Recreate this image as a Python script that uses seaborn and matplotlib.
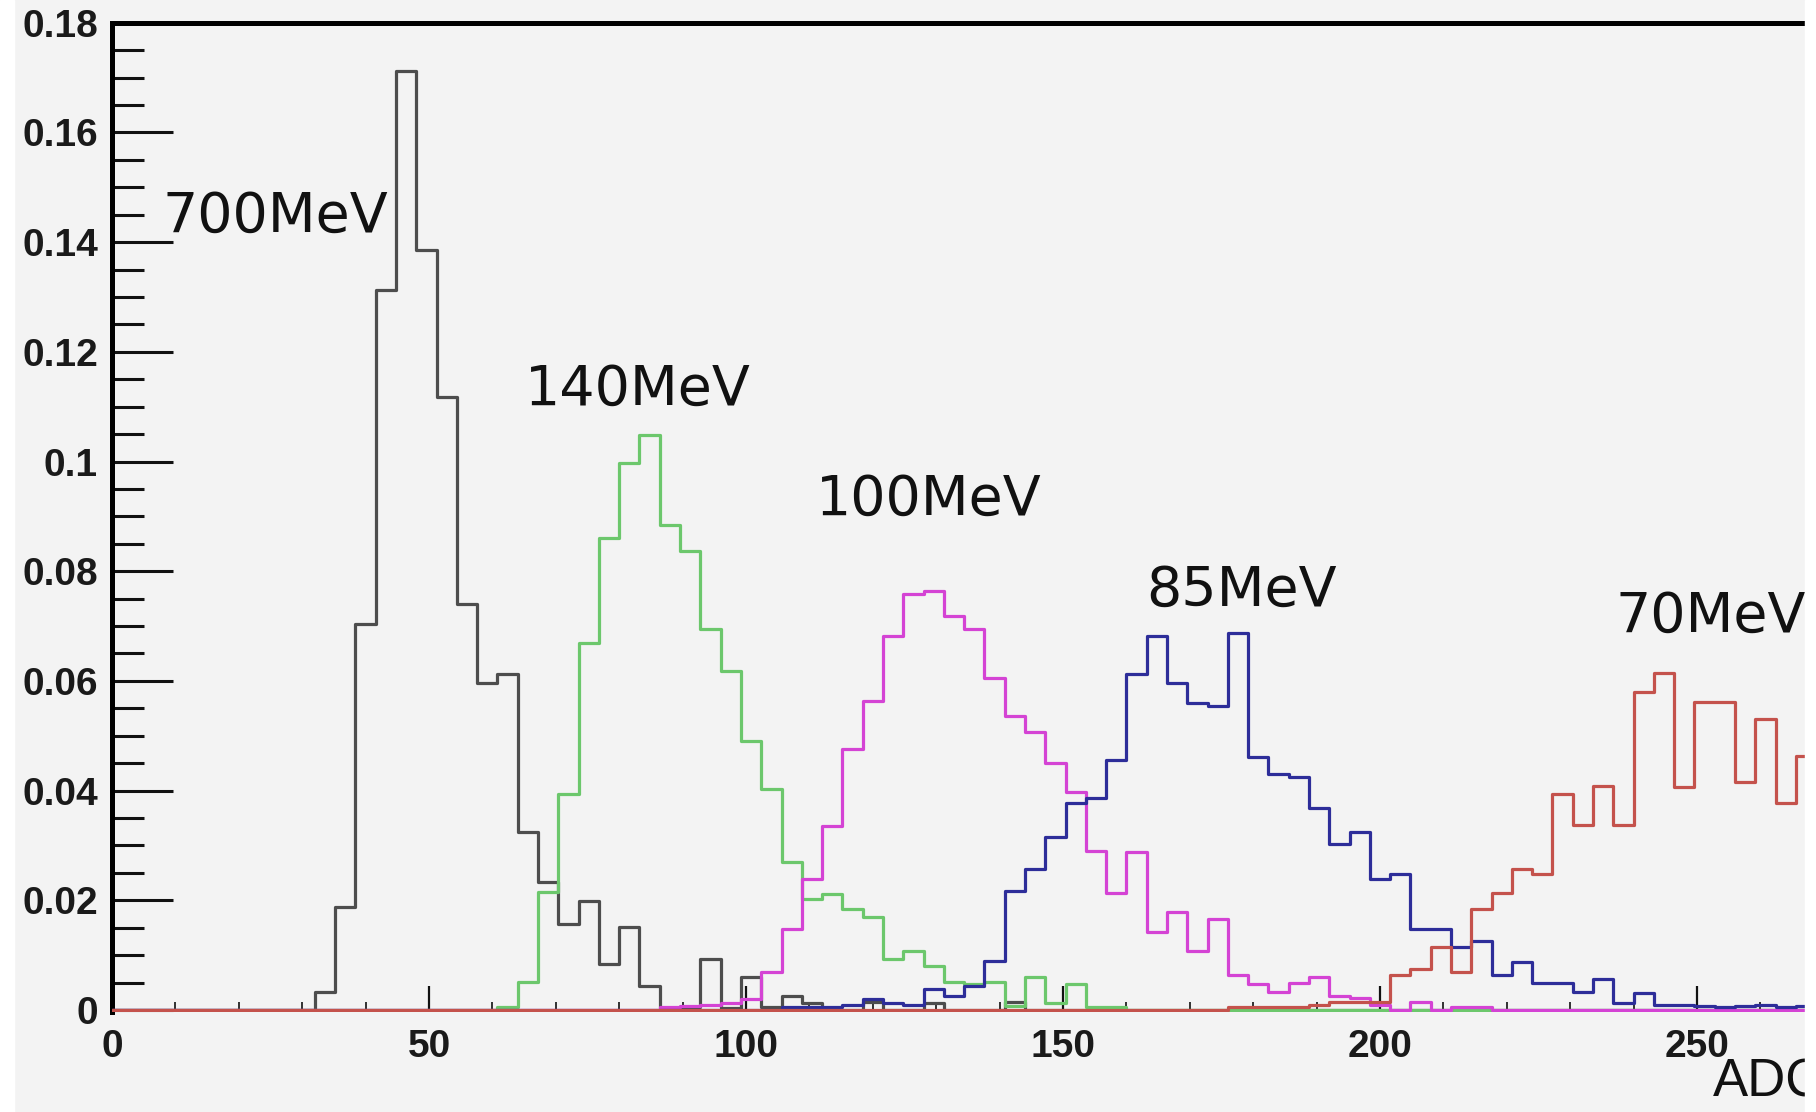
import numpy as np
import pandas as pd
import matplotlib
matplotlib.use("Agg")
import matplotlib.pyplot as plt
from matplotlib.patches import Rectangle
from matplotlib.ticker import MultipleLocator
import seaborn as sns

# ---------------- data (normalised ADC spectra, bin width 3.2 ADC) ----------------
bin_width = 3.2
n_bins = 84

labels = ["700MeV", "140MeV", "100MeV", "85MeV", "70MeV"]

start_700 = 9
vals_700 = [0.0, 0.0032, 0.0187, 0.0703, 0.1313, 0.1712, 0.1386, 0.1117, 0.0740,
            0.0597, 0.0612, 0.0324, 0.0233, 0.0157, 0.0199, 0.0084, 0.0151, 0.0044,
            0.0004, 0.0005, 0.0093, 0.0004, 0.0060, 0.0005, 0.0026, 0.0012, 0.0,
            0.0, 0.0015, 0.0, 0.0, 0.0012, 0.0, 0.0, 0.0, 0.0015]

start_140 = 19
vals_140 = [0.0005, 0.0051, 0.0215, 0.0393, 0.0670, 0.0861, 0.0998, 0.1049, 0.0885,
            0.0837, 0.0694, 0.0618, 0.0490, 0.0403, 0.0269, 0.0202, 0.0211, 0.0184,
            0.0169, 0.0093, 0.0108, 0.0081, 0.0051, 0.0048, 0.0051, 0.0008, 0.0060,
            0.0012, 0.0048, 0.0005, 0.0005]

start_100 = 27
vals_100 = [0.0005, 0.0008, 0.0010, 0.0012, 0.0020, 0.0070, 0.0148, 0.0239, 0.0336,
            0.0476, 0.0563, 0.0682, 0.0758, 0.0764, 0.0718, 0.0694, 0.0606, 0.0536,
            0.0506, 0.0451, 0.0397, 0.0290, 0.0214, 0.0288, 0.0142, 0.0178, 0.0107,
            0.0166, 0.0063, 0.0047, 0.0032, 0.0050, 0.0060, 0.0026, 0.0022, 0.0010,
            0.0, 0.0015, 0.0, 0.0005, 0.0005]

start_85 = 33
vals_85 = [0.0005, 0.0005, 0.0005, 0.0010, 0.0020, 0.0012, 0.0010, 0.0038, 0.0026,
           0.0044, 0.0090, 0.0217, 0.0257, 0.0315, 0.0378, 0.0387, 0.0455, 0.0612,
           0.0682, 0.0597, 0.0560, 0.0555, 0.0688, 0.0462, 0.0430, 0.0424, 0.0369,
           0.0302, 0.0324, 0.0239, 0.0248, 0.0148, 0.0148, 0.0114, 0.0126, 0.0063,
           0.0087, 0.0050, 0.0050, 0.0032, 0.0057, 0.0013, 0.0031, 0.0009, 0.0009,
           0.0008, 0.0005, 0.0008, 0.0009, 0.0005, 0.0008]

start_70 = 55
vals_70 = [0.0005, 0.0005, 0.0005, 0.0005, 0.0010, 0.0015, 0.0015, 0.0015, 0.0063,
           0.0075, 0.0114, 0.0070, 0.0185, 0.0214, 0.0257, 0.0248, 0.0393, 0.0337,
           0.0409, 0.0337, 0.0579, 0.0615, 0.0406, 0.0561, 0.0561, 0.0415, 0.0530,
           0.0378, 0.0463]

x_ticks = [0, 50, 100, 150, 200, 250]
x_tick_labels = ["0", "50", "100", "150", "200", "250"]
y_ticks = [0, 0.02, 0.04, 0.06, 0.08, 0.10, 0.12, 0.14, 0.16, 0.18]
y_tick_labels = ["0", "0.02", "0.04", "0.06", "0.08", "0.1", "0.12", "0.14", "0.16", "0.18"]
x_title = "ADC"

# ---------------- styling / layout ----------------
colors = {"700MeV": "#4d4d4d", "140MeV": "#6cc76c", "100MeV": "#d443d4",
          "85MeV": "#2d2d99", "70MeV": "#c4524c"}
label_pos = {"700MeV": (8.0, 0.1418), "140MeV": (65.1, 0.1103), "100MeV": (111.0, 0.0902),
             "85MeV": (163.2, 0.0737), "70MeV": (237.2, 0.0689)}

starts = [start_700, start_140, start_100, start_85, start_70]
values = [vals_700, vals_140, vals_100, vals_85, vals_70]

edges = [i * bin_width for i in range(n_bins + 1)]
centers = [e + bin_width / 2 for e in edges[:-1]]

rows = []
for lab, st, vals in zip(labels, starts, values):
    full = np.zeros(n_bins)
    full[st:st + len(vals)] = vals
    for c, w in zip(centers, full):
        rows.append((lab, c, w))
df = pd.DataFrame(rows, columns=["energy", "adc", "weight"])

sns.set_style("white")
plt.rcParams["font.family"] = ["Liberation Sans", "DejaVu Sans"]

W, H = 1816, 1112
bg = "#f3f3f3"
fig = plt.figure(figsize=(W / 100, H / 100), dpi=100, facecolor=bg)

px_per_adc = 6.34
px_per_unit = 5485.0
left_px, right_px, top_px, zero_px = 112, 1805, 22.7, 1010
ymin = -0.0004
bottom_px = zero_px - ymin * px_per_unit
ax = fig.add_axes([left_px / W, 1 - bottom_px / H, (right_px - left_px) / W,
                   (bottom_px - top_px) / H])
ax.set_facecolor(bg)

for lab in labels:
    sub = df[df["energy"] == lab]
    sns.histplot(data=sub, x="adc", weights="weight", bins=edges, element="step",
                 fill=False, color=colors[lab], linewidth=2.3, ax=ax, zorder=3)

ax.set_xlim(0, (right_px - left_px) / px_per_adc)
ax.set_ylim(ymin, 0.18)
ax.set_xlabel("")
ax.set_ylabel("")

ax.set_xticks(x_ticks)
ax.set_xticklabels(x_tick_labels)
ax.set_yticks(y_ticks)
ax.set_yticklabels(y_tick_labels)
ax.xaxis.set_minor_locator(MultipleLocator(10))
ax.yaxis.set_minor_locator(MultipleLocator(0.005))

ax.tick_params(axis="y", which="major", direction="in", length=44, width=2.2, pad=10,
               labelsize=28, color="#111111", labelcolor="#1a1a1a", left=True)
ax.tick_params(axis="y", which="minor", direction="in", length=23, width=2.2,
               color="#111111", left=True)
ax.tick_params(axis="x", which="major", direction="in", length=19, width=1.6, pad=12,
               labelsize=28, color="#111111", labelcolor="#1a1a1a", bottom=True)
ax.tick_params(axis="x", which="minor", direction="in", length=7, width=1.3,
               color="#222222", bottom=True)
for t in ax.get_xticklabels() + ax.get_yticklabels():
    t.set_fontweight("bold")
    t.set_fontfamily(["Liberation Sans", "DejaVu Sans"])

for side in ["right", "bottom"]:
    ax.spines[side].set_visible(False)
for side in ["left", "top"]:
    ax.spines[side].set_visible(True)
    ax.spines[side].set_linewidth(3.6)
    ax.spines[side].set_color("#000000")

for lab in labels:
    x, y = label_pos[lab]
    ax.text(x, y, lab, fontsize=40, family=["DejaVu Sans"], color="#111111",
            ha="left", va="baseline", zorder=5)

ax.text((1713 - left_px) / px_per_adc, (zero_px - 1097) / px_per_unit, x_title,
        fontsize=38, family=["Liberation Sans", "DejaVu Sans"], color="#111111",
        ha="left", va="baseline", clip_on=False)

# white borders of the original picture
fig.add_artist(Rectangle((0, 0), 14 / W, 1, transform=fig.transFigure,
                         color="white", zorder=20))
fig.add_artist(Rectangle((1805 / W, 0), (W - 1805) / W, 1, transform=fig.transFigure,
                         color="white", zorder=20))

fig.savefig("out.png", dpi=100, facecolor=bg)
